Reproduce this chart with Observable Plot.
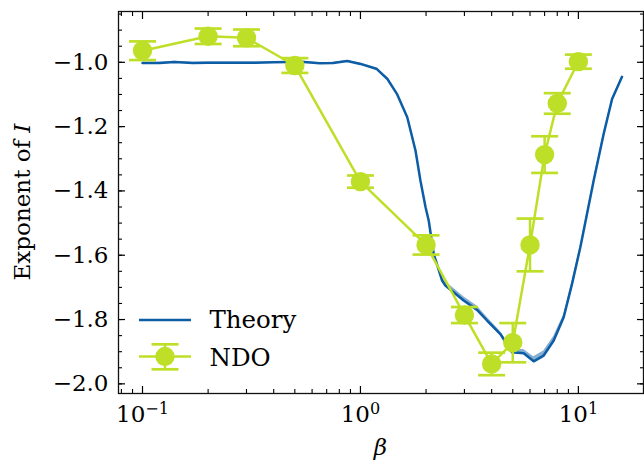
<!DOCTYPE html>
<html><head><meta charset="utf-8">
<script src="https://cdn.jsdelivr.net/npm/d3@7"></script>
<script src="https://cdn.jsdelivr.net/npm/@observablehq/plot@0.6"></script>
<style>
html,body{margin:0;padding:0;background:#fff;}
#wrap{position:relative;width:644px;height:462px;overflow:hidden;}
#wrap svg{position:absolute;left:0;top:0;}
</style></head><body><div id="wrap"></div>
<script>
// ---- data ----
const ndoBeta = [0.1, 0.2, 0.3, 0.5, 1, 2, 3, 4, 5, 6, 7, 8, 10];
const ndoExp  = [-0.964, -0.919, -0.924, -1.010, -1.371, -1.568, -1.786, -1.938, -1.872, -1.568, -1.287, -1.128, -0.998];
const ndoErr  = [0.029, 0.024, 0.026, 0.023, 0.019, 0.030, 0.025, 0.035, 0.061, 0.082, 0.057, 0.032, 0.022];

const theoryBeta = [0.1, 0.12, 0.14, 0.17, 0.2, 0.24, 0.28, 0.33, 0.4, 0.47, 0.55, 0.65, 0.75, 0.87, 1.0, 1.19, 1.33, 1.47, 1.64, 1.79, 1.885, 1.99, 2.057, 2.169, 2.37, 2.454, 2.978, 3.429, 3.811, 4.387, 4.963, 5.613, 6.237, 6.933, 7.706, 8.563, 9.352, 10.21, 11.75, 13.06, 14.28, 15.86];
const theoryExp  = [-1.002, -1.002, -0.999, -1.002, -1.001, -1.001, -1.001, -1.001, -1.000, -0.999, -0.999, -1.003, -1.002, -0.996, -1.005, -1.021, -1.052, -1.098, -1.171, -1.275, -1.368, -1.451, -1.492, -1.596, -1.679, -1.694, -1.741, -1.770, -1.803, -1.845, -1.902, -1.905, -1.930, -1.912, -1.865, -1.793, -1.689, -1.575, -1.368, -1.223, -1.114, -1.045];
const theoryBandUp   = [0.002, 0.002, 0.002, 0.002, 0.002, 0.002, 0.002, 0.002, 0.002, 0.002, 0.002, 0.002, 0.002, 0.002, 0.003, 0.003, 0.003, 0.003, 0.004, 0.004, 0.004, 0.005, 0.006, 0.008, 0.010, 0.012, 0.012, 0.012, 0.010, 0.008, 0.008, 0.012, 0.014, 0.014, 0.012, 0.008, 0.006, 0.004, 0.003, 0.003, 0.002, 0.002];
const theoryBandDown = [0.002, 0.002, 0.002, 0.002, 0.002, 0.002, 0.002, 0.002, 0.002, 0.002, 0.002, 0.002, 0.002, 0.002, 0.003, 0.003, 0.003, 0.003, 0.004, 0.004, 0.004, 0.004, 0.004, 0.004, 0.004, 0.004, 0.004, 0.004, 0.004, 0.004, 0.004, 0.004, 0.004, 0.005, 0.005, 0.004, 0.004, 0.003, 0.003, 0.002, 0.002, 0.002];

const xMajorTicks = [0.1, 1, 10];
const xMajorLabels = [["10", "−1"], ["10", "0"], ["10", "1"]];
const xMinorTicks = [0.08, 0.09, 0.2, 0.3, 0.4, 0.5, 0.6, 0.7, 0.8, 0.9, 2, 3, 4, 5, 6, 7, 8, 9];
const yMajorTicks = [-2.0, -1.8, -1.6, -1.4, -1.2, -1.0];
const yMinorTicks = [-2.0, -1.95, -1.9, -1.85, -1.8, -1.75, -1.7, -1.65, -1.6, -1.55, -1.5, -1.45, -1.4, -1.35, -1.3, -1.25, -1.2, -1.15, -1.1, -1.05, -1.0, -0.95, -0.9, -0.85];

const seriesNames = ["Theory", "NDO"];

// ---- tables ----
const ndo = ndoBeta.map((b, i) => ({beta: b, y: ndoExp[i], lo: ndoExp[i] - ndoErr[i], hi: ndoExp[i] + ndoErr[i]}));
const theory = theoryBeta.map((b, i) => ({beta: b, y: theoryExp[i], lo: theoryExp[i] - theoryBandDown[i], hi: theoryExp[i] + theoryBandUp[i]}));

const green = "#bedf27", blue = "#0C5DA5";
const FONT = "DejaVu Serif";
const capSymbol = {draw(ctx, size) { const w = Math.sqrt(size / Math.PI); ctx.moveTo(-w, 0); ctx.lineTo(w, 0); }};

const plot = Plot.plot({
  width: 644, height: 462,
  marginLeft: 118, marginRight: 1, marginTop: 11, marginBottom: 69,
  style: {fontFamily: FONT, fontSize: "23px", color: "#000", background: "#fff"},
  x: {type: "log", domain: [0.0776, 19.9]},
  y: {domain: [-2.030, -0.842]},
  marks: [
    Plot.areaY(theory, {x: "beta", y1: "lo", y2: "hi", fill: blue, fillOpacity: 0.5}),
    Plot.line(theory, {x: "beta", y: "y", stroke: blue, strokeWidth: 2.5}),
    Plot.line(ndo, {x: "beta", y: "y", stroke: green, strokeWidth: 2.5}),
    Plot.ruleX(ndo, {x: "beta", y1: "lo", y2: "hi", stroke: green, strokeWidth: 2.5}),
    Plot.dot(ndo, {x: "beta", y: "lo", r: 13.5, symbol: capSymbol, stroke: green, strokeWidth: 2.7, fill: "none"}),
    Plot.dot(ndo, {x: "beta", y: "hi", r: 13.5, symbol: capSymbol, stroke: green, strokeWidth: 2.7, fill: "none"}),
    Plot.dot(ndo, {x: "beta", y: "y", r: 9.7, fill: green, stroke: "none"}),
    // inward ticks
    Plot.axisX({anchor: "bottom", ticks: xMajorTicks, tickSize: -7, text: null, strokeWidth: 1.2, label: null}),
    Plot.axisX({anchor: "bottom", ticks: xMinorTicks, tickSize: -4, text: null, strokeWidth: 1.1, label: null}),
    Plot.axisX({anchor: "top", ticks: xMajorTicks, tickSize: -7, text: null, strokeWidth: 1.2, label: null}),
    Plot.axisX({anchor: "top", ticks: xMinorTicks, tickSize: -4, text: null, strokeWidth: 1.1, label: null}),
    Plot.axisY({anchor: "left", ticks: yMajorTicks, tickSize: -7, text: null, strokeWidth: 1.2, label: null}),
    Plot.axisY({anchor: "left", ticks: yMinorTicks, tickSize: -4, text: null, strokeWidth: 1.1, label: null}),
    Plot.axisY({anchor: "right", ticks: yMajorTicks, tickSize: -7, text: null, strokeWidth: 1.2, label: null}),
    Plot.axisY({anchor: "right", ticks: yMinorTicks, tickSize: -4, text: null, strokeWidth: 1.1, label: null}),
    // tick labels
    Plot.axisX({anchor: "bottom", ticks: xMajorTicks, tickSize: 0, tickPadding: 12, fontSize: 23, label: null,
      tickFormat: d => xMajorLabels[xMajorTicks.indexOf(d)].join("^")}),
    Plot.axisY({anchor: "left", ticks: yMajorTicks, tickSize: 0, tickPadding: 10, fontSize: 23, label: null,
      tickFormat: d => d.toFixed(1).replace("-", "−")}),
    Plot.frame({stroke: "#111", strokeWidth: 1.3})
  ]
});

// superscripts for log tick labels
d3.select(plot).selectAll('g[aria-label="x-axis tick label"] text').each(function() {
  const t = d3.select(this);
  const parts = t.text().split("^");
  t.text(null);
  t.append("tspan").text(parts[0]);
  t.append("tspan").attr("font-size", "16px").attr("dy", "-8px").text(parts[1]);
});

const wrap = document.getElementById("wrap");
wrap.appendChild(plot);

// axis labels and legend overlay
const ov = d3.select(wrap).append("svg").attr("width", 644).attr("height", 462)
  .style("font-family", FONT).style("font-size", "23px");
ov.append("text").attr("x", 380.5).attr("y", 455).attr("text-anchor", "middle")
  .attr("font-style", "italic").text("β");
const yl = ov.append("text").attr("transform", "translate(29.5,202) rotate(-90)").attr("text-anchor", "middle");
yl.append("tspan").text("Exponent of ");
yl.append("tspan").attr("font-style", "italic").text("I");

// legend
const lg = ov.append("g").style("font-size", "24.5px");
lg.append("line").attr("x1", 139).attr("x2", 191).attr("y1", 320).attr("y2", 320).attr("stroke", blue).attr("stroke-width", 2.5);
lg.append("text").attr("x", 209.5).attr("y", 327.5).text(seriesNames[0]);
lg.append("line").attr("x1", 139).attr("x2", 191).attr("y1", 356.5).attr("y2", 356.5).attr("stroke", green).attr("stroke-width", 2.5);
lg.append("line").attr("x1", 165).attr("x2", 165).attr("y1", 344.3).attr("y2", 369.3).attr("stroke", green).attr("stroke-width", 2.5);
lg.append("line").attr("x1", 151.5).attr("x2", 178.5).attr("y1", 344.3).attr("y2", 344.3).attr("stroke", green).attr("stroke-width", 2.7);
lg.append("line").attr("x1", 151.5).attr("x2", 178.5).attr("y1", 369.3).attr("y2", 369.3).attr("stroke", green).attr("stroke-width", 2.7);
lg.append("circle").attr("cx", 165).attr("cy", 356.5).attr("r", 9.7).attr("fill", green);
lg.append("text").attr("x", 209.5).attr("y", 365.5).text(seriesNames[1]);
</script></body></html>
